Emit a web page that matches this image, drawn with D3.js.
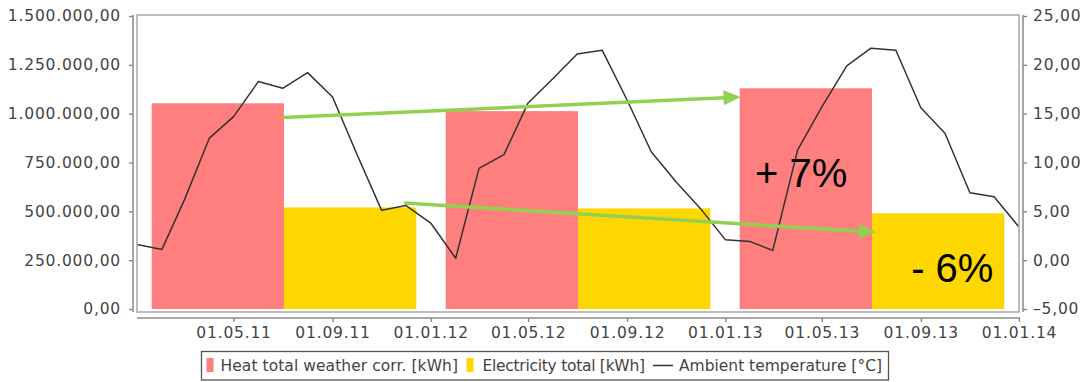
<!DOCTYPE html>
<html>
<head>
<meta charset="utf-8">
<script src="https://cdn.jsdelivr.net/npm/d3@7"></script>
<style>
  html, body { margin: 0; padding: 0; background: #fff; }
  svg { display: block; }
  .tick text { font-family: "DejaVu Sans", sans-serif; font-size: 15.5px; fill: #444; letter-spacing: 0.8px; }
  .tick line { stroke: #808080; stroke-width: 1.3; }
</style>
</head>
<body>
<svg id="chart" width="1090" height="382"></svg>
<script>
// ---------- data ----------
const years = ["2011", "2012", "2013"];
const heatValues = [1053000, 1013000, 1130000];      // Heat total weather corr. [kWh]
const elecValues = [520000, 515000, 490000];         // Electricity total [kWh]
const tempValues = [1.6, 1.1, 6.2, 12.5, 14.7, 18.3, 17.6, 19.2, 16.7, 10.9, 5.1, 5.6,
                    3.8, 0.2, 9.4, 10.8, 16.1, 18.6, 21.1, 21.5, 16.4, 11.1, 8.0, 5.3,
                    2.1, 1.9, 1.0, 11.3, 15.7, 19.9, 21.7, 21.5, 15.6, 13.0, 6.9, 6.5,
                    3.4];                            // Ambient temperature [°C], monthly from 01.01.11
const leftTicks = [0, 250000, 500000, 750000, 1000000, 1250000, 1500000];
const rightTicks = [-5, 0, 5, 10, 15, 20, 25];
const xTickDates = ["2011-05-01", "2011-09-01", "2012-01-01", "2012-05-01", "2012-09-01",
                    "2013-01-01", "2013-05-01", "2013-09-01", "2014-01-01"];
const seriesNames = ["Heat total weather corr. [kWh]", "Electricity total [kWh]", "Ambient temperature [°C]"];
const seriesColors = ["#ff7f7f", "#ffd700", "#333333"];
// annotation arrows: [start date, start kWh, end date, end kWh]
const arrows = [
  ["2011-07-01", 980000, "2013-01-20", 1085000],
  ["2011-11-29", 543000, "2013-07-07", 393000]
];
// annotation labels: [text, date, kWh at baseline]
const notes = [["+ 7%", "2013-02-07", 625000], ["- 6%", "2013-08-20", 137000]];

// ---------- setup ----------
const svg = d3.select("#chart");
const plot = { left: 137, right: 1019, top: 15, bottom: 312 };
const parse = d3.utcParse("%Y-%m-%d");

const x = d3.scaleUtc()
  .domain([new Date(Date.UTC(2011, 0, 1)), new Date(Date.UTC(2014, 0, 1))])
  .range([plot.left, plot.right]);
const yL = d3.scaleLinear().domain([0, 1500000]).range([309, 16]);
const yR = d3.scaleLinear().domain([-5, 25]).range([309, 16]);

const band = d3.scaleBand().domain(years)
  .range([x(new Date(Date.UTC(2011, 0, 1))), x(new Date(Date.UTC(2014, 0, 1)))])
  .paddingInner(0.1).paddingOuter(0.05);
const sub = d3.scaleBand().domain(["heat", "elec"]).range([0, band.bandwidth()]).padding(0);

const de = d3.formatLocale({ decimal: ",", thousands: ".", grouping: [3], currency: ["", ""], minus: "\u2013" });
const fmt = de.format(",.2f");

// clip
svg.append("defs").append("clipPath").attr("id", "clip")
  .append("rect").attr("x", plot.left).attr("y", plot.top)
  .attr("width", plot.right - plot.left).attr("height", plot.bottom - plot.top);

// ---------- bars ----------
const gBars = svg.append("g").attr("clip-path", "url(#clip)");
gBars.selectAll("rect.heat").data(years).join("rect")
  .attr("class", "heat")
  .attr("x", d => band(d) + sub("heat"))
  .attr("width", sub.bandwidth())
  .attr("y", (d, i) => yL(heatValues[i]))
  .attr("height", (d, i) => yL(0) - yL(heatValues[i]))
  .attr("fill", seriesColors[0]);
gBars.selectAll("rect.elec").data(years).join("rect")
  .attr("class", "elec")
  .attr("x", d => band(d) + sub("elec"))
  .attr("width", sub.bandwidth())
  .attr("y", (d, i) => yL(elecValues[i]))
  .attr("height", (d, i) => yL(0) - yL(elecValues[i]))
  .attr("fill", seriesColors[1]);

// ---------- temperature line ----------
const tempDates = d3.utcMonth.range(new Date(Date.UTC(2011, 0, 1)), new Date(Date.UTC(2014, 0, 2)));
const tempData = tempValues.map((v, i) => [tempDates[i], v]);
svg.append("path").attr("clip-path", "url(#clip)")
  .datum(tempData)
  .attr("fill", "none").attr("stroke", seriesColors[2]).attr("stroke-width", 1.5)
  .attr("stroke-linejoin", "round")
  .attr("d", d3.line().x(d => x(d[0])).y(d => yR(d[1])));

// ---------- plot border ----------
svg.append("rect")
  .attr("x", plot.left).attr("y", plot.top)
  .attr("width", plot.right - plot.left).attr("height", plot.bottom - plot.top)
  .attr("fill", "none").attr("stroke", "#a8a8a8").attr("stroke-width", 1.5);

// ---------- axes ----------
const axisColor = "#8a8a8a";
const gL = svg.append("g").attr("transform", "translate(133,0)")
  .call(d3.axisLeft(yL).tickValues(leftTicks).tickSize(4).tickPadding(8).tickFormat(fmt));
gL.select(".domain").remove();
svg.append("line").attr("x1", 133).attr("x2", 133).attr("y1", plot.top).attr("y2", plot.bottom)
  .attr("stroke", axisColor).attr("stroke-width", 1.5);

const gR = svg.append("g").attr("transform", "translate(1023,0)")
  .call(d3.axisRight(yR).tickValues(rightTicks).tickSize(4).tickPadding(6).tickFormat(fmt));
gR.select(".domain").remove();
svg.append("line").attr("x1", 1023).attr("x2", 1023).attr("y1", plot.top).attr("y2", plot.bottom)
  .attr("stroke", axisColor).attr("stroke-width", 1.5);

const gB = svg.append("g").attr("transform", "translate(0,318)")
  .call(d3.axisBottom(x).tickValues(xTickDates.map(parse)).tickSize(4).tickPadding(5)
    .tickFormat(d3.utcFormat("%d.%m.%y")));
gB.select(".domain").remove();
svg.append("line").attr("x1", plot.left).attr("x2", plot.right + 1).attr("y1", 318).attr("y2", 318)
  .attr("stroke", axisColor).attr("stroke-width", 1.5);

// ---------- annotations ----------
const green = "#92d050";
const gA = svg.append("g");
arrows.forEach(a => {
  const x1 = x(parse(a[0])), y1 = yL(a[1]), x2 = x(parse(a[2])), y2 = yL(a[3]);
  const ang = Math.atan2(y2 - y1, x2 - x1);
  const L = 17, hw = 7.5;
  const bx = x2 - L * Math.cos(ang), by = y2 - L * Math.sin(ang);
  gA.append("line").attr("x1", x1).attr("y1", y1).attr("x2", bx + Math.cos(ang)).attr("y2", by + Math.sin(ang))
    .attr("stroke", green).attr("stroke-width", 3.5);
  const px = -Math.sin(ang), py = Math.cos(ang);
  gA.append("polygon")
    .attr("points", [[x2, y2], [bx + px * hw, by + py * hw], [bx - px * hw, by - py * hw]].map(p => p.join(",")).join(" "))
    .attr("fill", green);
});
notes.forEach(n => {
  gA.append("text").attr("x", x(parse(n[1]))).attr("y", yL(n[2]))
    .attr("font-family", "Liberation Sans, Arial, sans-serif").attr("font-size", 40)
    .attr("fill", "#000").text(n[0]);
});

// ---------- legend ----------
const gLeg = svg.append("g").attr("font-family", "DejaVu Sans, sans-serif").attr("font-size", 15.5).attr("fill", "#444");
gLeg.append("rect").attr("x", 201.5).attr("y", 351.5).attr("width", 687).attr("height", 28.5)
  .attr("fill", "#fff").attr("stroke", "#555").attr("stroke-width", 1.3);
const legItems = [
  { sx: 206.5, tx: 220.5, tw: 237.5, type: "rect" },
  { sx: 466.5, tx: 482.5, tw: 162.5, type: "rect" },
  { sx: 653, tx: 679, tw: 203, type: "line" }
];
legItems.forEach((it, i) => {
  if (it.type === "rect") {
    gLeg.append("rect").attr("x", it.sx).attr("y", 358).attr("width", 7).attr("height", 14).attr("fill", seriesColors[i]);
  } else {
    gLeg.append("line").attr("x1", it.sx).attr("x2", it.sx + 20).attr("y1", 365.5).attr("y2", 365.5)
      .attr("stroke", seriesColors[i]).attr("stroke-width", 1.5);
  }
  gLeg.append("text").attr("x", it.tx).attr("y", 370.5)
    .attr("textLength", it.tw).attr("lengthAdjust", "spacing").text(seriesNames[i]);
});
</script>
</body>
</html>
